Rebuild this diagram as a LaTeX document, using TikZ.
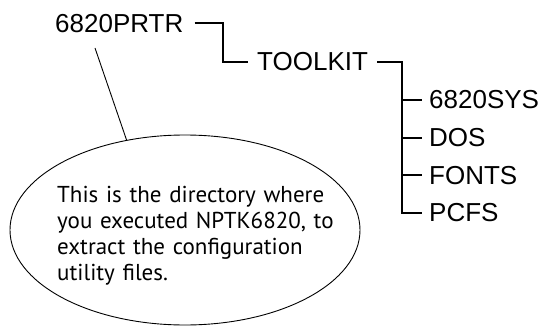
\documentclass[tikz,border=0pt]{standalone}
\usepackage{fontspec}
\setmainfont{Liberation Sans}
\newfontfamily\notefont{PT Sans}
\usetikzlibrary{shapes.geometric, positioning, calc}
\tikzset{
    % Directory names
    dir label/.style={
        inner sep=0pt, anchor=west, font=\fontsize{26}{30}\selectfont
    },
    % Tree branches
    tree line/.style={
        line width=1.8pt, line cap=butt, line join=miter
    },
    % Callout bubble
    callout/.style={
        ellipse, draw, line width=0.9pt, inner sep=0pt,
        minimum width=350pt, minimum height=190pt
    },
    callout text/.style={
        inner sep=0pt, text width=290pt, align=left,
        font=\notefont\fontsize{23}{26}\selectfont
    }
}
\begin{document}
\begin{tikzpicture}[x=1pt, y=-1pt]

    \useasboundingbox (0,0) rectangle (543,326);

    % Directories
    \node[dir label] (prtr) at (55, 23.3) {6820PRTR};
    \node[dir label] (toolkit) at (257, 62) {TOOLKIT};
    \node[dir label] (sys) at (429, 100) {6820SYS};
    \node[dir label] (dos) at (429, 137.6) {DOS};
    \node[dir label] (fonts) at (429, 175.1) {FONTS};
    \node[dir label] (pcfs) at (429, 212.7) {PCFS};

    % 6820PRTR -> TOOLKIT
    \draw[tree line] ([xshift=11pt]prtr.east) -| ([xshift=-34pt]toolkit.west) -- ([xshift=-9pt]toolkit.west);

    % TOOLKIT -> subdirectories
    \coordinate (trunk) at (402, 62);
    \draw[tree line] ([xshift=9pt]toolkit.east) -- (trunk) |- ([xshift=-7pt]pcfs.west);
    \foreach \d in {sys, dos, fonts} {
        \draw[tree line] (trunk |- \d.west) -- ([xshift=-7pt]\d.west);
    }

    % Callout
    \node[callout] (note) at (185, 230) {};
    \node[callout text, anchor=north west] (notetext) at (57, 186) {
        This is the directory where\\
        you executed NPTK6820, to\\
        extract the configuration\\
        utility files.
    };
    \coordinate (tip) at (95, 48);
    \draw[line width=0.9pt] (tip) -- (note.123);

\end{tikzpicture}
\end{document}
